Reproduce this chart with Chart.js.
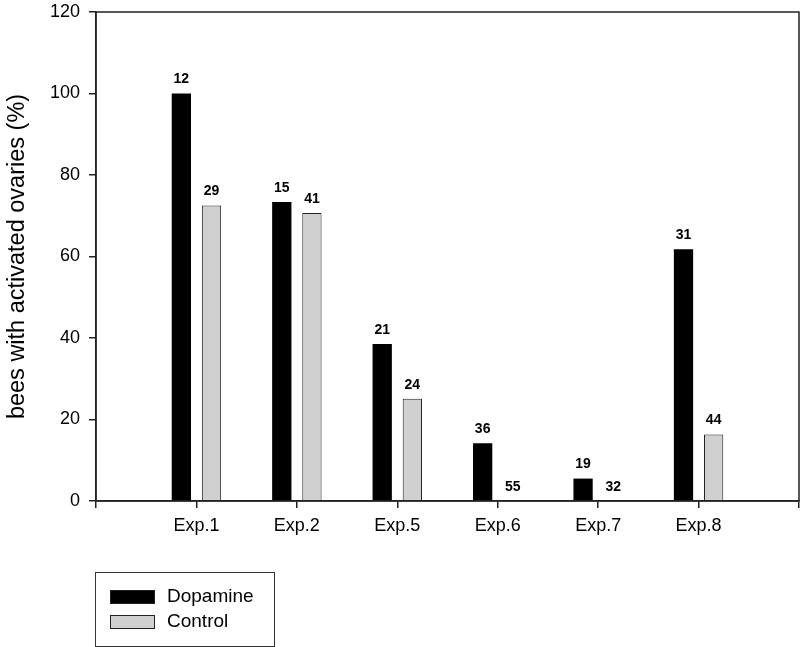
<!DOCTYPE html>
<html>
<head>
<meta charset="utf-8">
<script src="https://cdn.jsdelivr.net/npm/chart.js@4/dist/chart.umd.min.js"></script>
<style>
html,body{margin:0;padding:0;background:#fff;}
#wrap{width:803px;height:647px;position:relative;}
</style>
</head>
<body>
<div id="wrap"><canvas id="c" width="803" height="647"></canvas></div>
<script>
const categories = ['', 'Exp.1', 'Exp.2', 'Exp.5', 'Exp.6', 'Exp.7', 'Exp.8', ''];
const dopamine = [null, 100, 73.4, 38.5, 14.2, 5.5, 61.8, null];
const control = [null, 72.5, 70.7, 25.1, 0, 0, 16.3, null];
const dopamineN = [null, 12, 15, 21, 36, 19, 31, null];
const controlN = [null, 29, 41, 24, 55, 32, 44, null];
const yTicks = [0, 20, 40, 60, 80, 100, 120];

const FONT = 'Liberation Sans, Arial, sans-serif';

const labelPlugin = {
  id: 'nlabels',
  afterDatasetsDraw(chart) {
    const ctx = chart.ctx;
    ctx.save();
    ctx.font = 'bold 14px ' + FONT;
    ctx.fillStyle = '#000';
    ctx.textAlign = 'center';
    ctx.textBaseline = 'bottom';
    const ns = [dopamineN, controlN];
    chart.data.datasets.forEach((ds, di) => {
      const meta = chart.getDatasetMeta(di);
      meta.data.forEach((el, i) => {
        const n = ns[di][i];
        if (n == null) return;
        ctx.fillText(String(n), el.x, el.y - 7);
      });
    });
    ctx.restore();
  }
};

const framePlugin = {
  id: 'frame',
  afterDraw(chart) {
    const a = chart.chartArea;
    const ctx = chart.ctx;
    ctx.save();
    ctx.strokeStyle = '#222';
    ctx.lineWidth = 1.5;
    ctx.strokeRect(a.left, a.top, a.right - a.left, a.bottom - a.top);
    // legend box
    const lx = 95, ly = 572, lw = 179, lh = 74;
    ctx.lineWidth = 1;
    ctx.strokeStyle = '#333';
    ctx.strokeRect(lx + 0.5, ly + 0.5, lw, lh);
    const items = chart.data.datasets;
    items.forEach((ds, i) => {
      const y = 590 + i * 25;
      ctx.fillStyle = ds.backgroundColor;
      ctx.fillRect(110, y, 45, 14);
      ctx.strokeStyle = '#222';
      ctx.strokeRect(110.5, y + 0.5, 44, 13);
      ctx.fillStyle = '#000';
      ctx.font = '19px ' + FONT;
      ctx.textAlign = 'left';
      ctx.textBaseline = 'middle';
      ctx.fillText(ds.label, 167, y + 7);
    });
    ctx.restore();
  }
};

new Chart(document.getElementById('c'), {
  type: 'bar',
  data: {
    labels: categories,
    datasets: [
      { label: 'Dopamine', data: dopamine, backgroundColor: '#000000', borderColor: '#000000', borderWidth: 0 },
      { label: 'Control', data: control, backgroundColor: '#d0d0d0', borderColor: '#222222', borderWidth: 1 }
    ]
  },
  options: {
    responsive: false,
    animation: false,
    devicePixelRatio: 1,
    layout: { padding: { left: 0, right: 4, top: 12, bottom: 0 } },
    datasets: { bar: { categoryPercentage: 0.6, barPercentage: 0.64, grouped: true } },
    plugins: { legend: { display: false }, tooltip: { enabled: false } },
    scales: {
      x: {
        offset: false,
        grid: { display: true, offset: false, drawOnChartArea: false, drawTicks: true, tickLength: 7, color: '#222', lineWidth: 1.5 },
        border: { display: true, color: '#222', width: 1.5 },
        ticks: { color: '#000', font: { family: FONT, size: 18 }, padding: 7, maxRotation: 0, autoSkip: false },
        afterFit(s) { s.height = 146; s.paddingLeft = 0; s.paddingRight = 0; }
      },
      y: {
        min: 0, max: 120,
        afterBuildTicks(s) { s.ticks = yTicks.map(v => ({ value: v })); },
        grid: { display: true, drawOnChartArea: false, drawTicks: true, tickLength: 7, color: '#222', lineWidth: 1.5 },
        border: { display: true, color: '#222', width: 1.5 },
        ticks: { color: '#000', font: { family: FONT, size: 18 }, padding: 9 },
        title: { display: true, text: 'bees with activated ovaries (%)', color: '#000', font: { family: FONT, size: 23.5 }, padding: { top: 3, bottom: 4 } },
        afterFit(s) { s.width = 96; s.paddingTop = 0; s.paddingBottom = 0; }
      }
    }
  },
  plugins: [labelPlugin, framePlugin]
});
</script>
</body>
</html>
